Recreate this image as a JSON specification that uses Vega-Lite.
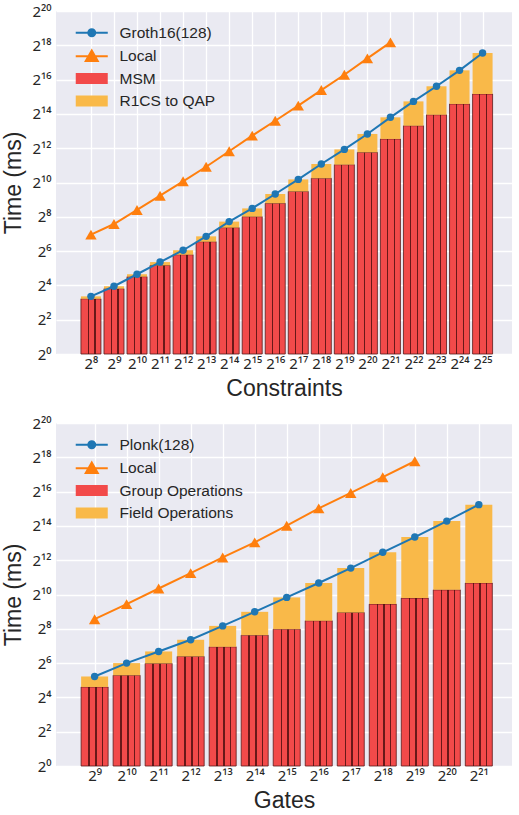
{
  "$schema": "https://vega.github.io/schema/vega-lite/v6.json",
  "background": "white",
  "padding": {"left": 2, "top": 4, "right": 0, "bottom": 0},
  "spacing": 16,
  "config": {
    "font": "Liberation Sans",
    "view": {"fill": "#EAEAF2", "stroke": null},
    "axis": {
      "domain": false, "ticks": false, "gridColor": "white", "gridWidth": 1.3,
      "labelFont": "Noto Sans", "labelFontSize": 15, "labelColor": "#262626",
      "titleFont": "Liberation Sans", "titleFontSize": 23, "titleFontWeight": "normal", "titleColor": "#262626"
    },
    "legend": {"labelFont": "Liberation Sans", "labelFontSize": 15.5, "labelColor": "#262626"}
  },
  "resolve": {"scale": {"color": "independent", "shape": "independent", "stroke": "independent", "x": "independent", "y": "independent"}},
  "vconcat": [
    {
      "width": 456, "height": 343,
      "data": {"values": [
        {"constraints": 256, "msm": 9.32, "groth16": 10.27, "local": 124.5},
        {"constraints": 512, "msm": 14.03, "groth16": 15.46, "local": 191.3},
        {"constraints": 1024, "msm": 22.79, "groth16": 25.11, "local": 337.8},
        {"constraints": 2048, "msm": 36.0, "groth16": 41.07, "local": 600.5},
        {"constraints": 4096, "msm": 55.33, "groth16": 66.26, "local": 1074.9},
        {"constraints": 8192, "msm": 93.7, "groth16": 116.2, "local": 1937.5},
        {"constraints": 16384, "msm": 165.4, "groth16": 210.8, "local": 3615.5},
        {"constraints": 32768, "msm": 257.8, "groth16": 359.5, "local": 6793.6},
        {"constraints": 65536, "msm": 442.6, "groth16": 643.6, "local": 12417},
        {"constraints": 131072, "msm": 714.1, "groth16": 1160.1, "local": 22851},
        {"constraints": 262144, "msm": 1217.7, "groth16": 2164.7, "local": 42940},
        {"constraints": 524288, "msm": 2105.6, "groth16": 3902, "local": 79575},
        {"constraints": 1048576, "msm": 3468.3, "groth16": 7281, "local": 154796},
        {"constraints": 2097152, "msm": 5955.6, "groth16": 14263, "local": 294937},
        {"constraints": 4194304, "msm": 10155, "groth16": 27175},
        {"constraints": 8388608, "msm": 15826, "groth16": 50011},
        {"constraints": 16777216, "msm": 24491, "groth16": 95289},
        {"constraints": 33554432, "msm": 36612, "groth16": 191903}
      ]},
      "encoding": {
        "x": {"field": "constraints", "type": "quantitative", "title": "Constraints",
          "scale": {"type": "log", "base": 2, "domain": [103.97, 69961000], "nice": false},
          "axis": {"values": [256,512,1024,2048,4096,8192,16384,32768,65536,131072,262144,524288,1048576,2097152,4194304,8388608,16777216,33554432],
            "labelPadding": 2, "titlePadding": 6, "labelFlush": false, "labelOverlap": false,
            "labelExpr": "'2' + (round(log(datum.value)/LN2) >= 10 ? ['⁰','¹','²','³','⁴','⁵','⁶','⁷','⁸','⁹'][floor(round(log(datum.value)/LN2)/10)] : '') + ['⁰','¹','²','³','⁴','⁵','⁶','⁷','⁸','⁹'][round(log(datum.value)/LN2) % 10]"}}
      },
      "layer": [
        {
          "data": {"values": []},
          "mark": {"type": "point", "filled": true, "opacity": 1, "size": 144, "strokeWidth": 2},
          "encoding": {
            "y": {"field": "groth16", "type": "quantitative", "title": "Time (ms)",
              "scale": {"type": "log", "base": 2, "domain": [1, 1048576], "nice": false},
              "axis": {"values": [1,4,16,64,256,1024,4096,16384,65536,262144,1048576], "labelPadding": 5, "titlePadding": 6, "labelFlush": false,
                "labelExpr": "'2' + (round(log(datum.value)/LN2) >= 10 ? ['⁰','¹','²','³','⁴','⁵','⁶','⁷','⁸','⁹'][floor(round(log(datum.value)/LN2)/10)] : '') + ['⁰','¹','²','³','⁴','⁵','⁶','⁷','⁸','⁹'][round(log(datum.value)/LN2) % 10]"}},
            "color": {"datum": "Groth16(128)", "type": "nominal",
              "scale": {"domain": ["Groth16(128)", "Local", "MSM", "R1CS to QAP"], "range": ["#1f77b4", "#ff7f0e", "#f24a4a", "#f9b949"]},
              "legend": {"title": null, "orient": "none", "legendX": 28, "legendY": 14, "padding": 0, "rowPadding": 4.4, "labelOffset": 20, "symbolSize": 144, "symbolStrokeWidth": 2}},
            "shape": {"datum": "Groth16(128)", "type": "nominal",
              "scale": {"domain": ["Groth16(128)", "Local", "MSM", "R1CS to QAP"], "range": [
                "M-2.67,0H2.67M0.58,0A0.58,0.58 0 1,1 -0.58,0A0.58,0.58 0 1,1 0.58,0Z",
                "M-2.67,0H2.67M0,-0.95L1,0.8L-1,0.8Z",
                "M-2.5,-0.75H2.5V0.75H-2.5Z",
                "M-2.5,-0.75H2.5V0.75H-2.5Z"]},
              "legend": {"title": null, "orient": "none", "legendX": 28, "legendY": 14, "padding": 0, "rowPadding": 4.4, "labelOffset": 20, "symbolSize": 144, "symbolStrokeWidth": 2}},
            "stroke": {"datum": "Groth16(128)", "type": "nominal",
              "scale": {"domain": ["Groth16(128)", "Local", "MSM", "R1CS to QAP"], "range": ["#1f77b4", "#ff7f0e", "#6a1e1e", "#d99a30"]},
              "legend": {"title": null, "orient": "none", "legendX": 28, "legendY": 14, "padding": 0, "rowPadding": 4.4, "labelOffset": 20, "symbolSize": 144, "symbolStrokeWidth": 2}}
          }
        },
        {
          "mark": {"type": "bar", "width": 20, "stroke": "#5c1a1a", "strokeWidth": 0.8},
          "encoding": {
            "y": {"field": "msm", "type": "quantitative", "title": "Time (ms)"},
            "y2": {"datum": 1},
            "color": {"datum": "MSM", "type": "nominal"}
          }
        },
        {
          "mark": {"type": "bar", "width": 20, "fill": {"gradient": "linear", "x1": 0, "y1": 0, "x2": 1, "y2": 0, "stops": [
            {"offset": 0, "color": "rgba(0,0,0,0)"}, {"offset": 0.33, "color": "rgba(0,0,0,0)"},
            {"offset": 0.33, "color": "rgba(70,12,12,0.8)"}, {"offset": 0.395, "color": "rgba(70,12,12,0.8)"},
            {"offset": 0.395, "color": "rgba(0,0,0,0)"}, {"offset": 0.665, "color": "rgba(0,0,0,0)"},
            {"offset": 0.665, "color": "rgba(70,12,12,0.8)"}, {"offset": 0.73, "color": "rgba(70,12,12,0.8)"},
            {"offset": 0.73, "color": "rgba(0,0,0,0)"}, {"offset": 1, "color": "rgba(0,0,0,0)"}]}},
          "encoding": {
            "y": {"field": "msm", "type": "quantitative", "title": "Time (ms)"},
            "y2": {"datum": 1}
          }
        },
        {
          "mark": {"type": "bar", "width": 20},
          "encoding": {
            "y": {"field": "groth16", "type": "quantitative", "title": "Time (ms)"},
            "y2": {"field": "msm"},
            "color": {"datum": "R1CS to QAP", "type": "nominal"}
          }
        },
        {
          "transform": [{"filter": "isValid(datum.local)"}],
          "mark": {"type": "line", "strokeWidth": 2},
          "encoding": {
            "y": {"field": "local", "type": "quantitative", "title": "Time (ms)"},
            "color": {"datum": "Local", "type": "nominal"}
          }
        },
        {
          "transform": [{"filter": "isValid(datum.local)"}],
          "mark": {"type": "point", "shape": "triangle-up", "filled": true, "size": 130, "opacity": 1},
          "encoding": {
            "y": {"field": "local", "type": "quantitative", "title": "Time (ms)"},
            "color": {"datum": "Local", "type": "nominal"}
          }
        },
        {
          "mark": {"type": "line", "strokeWidth": 2},
          "encoding": {
            "y": {"field": "groth16", "type": "quantitative", "title": "Time (ms)"},
            "color": {"datum": "Groth16(128)", "type": "nominal"}
          }
        },
        {
          "mark": {"type": "point", "shape": "circle", "filled": true, "size": 55, "opacity": 1},
          "encoding": {
            "y": {"field": "groth16", "type": "quantitative", "title": "Time (ms)"},
            "color": {"datum": "Groth16(128)", "type": "nominal"}
          }
        }
      ]
    },
    {
      "width": 456, "height": 343,
      "data": {"values": [
        {"gates": 512, "group": 24.42, "plonk": 37.27, "local": 377.4},
        {"gates": 1024, "group": 39.12, "plonk": 64, "local": 694.6},
        {"gates": 2048, "group": 63.12, "plonk": 102.5, "local": 1305.2},
        {"gates": 4096, "group": 83.87, "plonk": 164.3, "local": 2435.5},
        {"gates": 8192, "group": 123.6, "plonk": 288.0, "local": 4576.5},
        {"gates": 16384, "group": 198.1, "plonk": 508.5, "local": 8422},
        {"gates": 32768, "group": 252.5, "plonk": 910.2, "local": 16497},
        {"gates": 65536, "group": 354.6, "plonk": 1629.3, "local": 33227},
        {"gates": 131072, "group": 494.6, "plonk": 2977.8, "local": 62004},
        {"gates": 262144, "group": 694.6, "plonk": 5634, "local": 117315},
        {"gates": 524288, "group": 885.3, "plonk": 10442, "local": 223518},
        {"gates": 1048576, "group": 1234.7, "plonk": 19894},
        {"gates": 2097152, "group": 1629.3, "plonk": 38699}
      ]},
      "encoding": {
        "x": {"field": "gates", "type": "quantitative", "title": "Gates",
          "scale": {"type": "log", "base": 2, "domain": [247.3, 3859600], "nice": false},
          "axis": {"values": [512,1024,2048,4096,8192,16384,32768,65536,131072,262144,524288,1048576,2097152],
            "labelPadding": 2, "titlePadding": 6, "labelFlush": false, "labelOverlap": false,
            "labelExpr": "'2' + (round(log(datum.value)/LN2) >= 10 ? ['⁰','¹','²','³','⁴','⁵','⁶','⁷','⁸','⁹'][floor(round(log(datum.value)/LN2)/10)] : '') + ['⁰','¹','²','³','⁴','⁵','⁶','⁷','⁸','⁹'][round(log(datum.value)/LN2) % 10]"}}
      },
      "layer": [
        {
          "data": {"values": []},
          "mark": {"type": "point", "filled": true, "opacity": 1, "size": 144, "strokeWidth": 2},
          "encoding": {
            "y": {"field": "plonk", "type": "quantitative", "title": "Time (ms)",
              "scale": {"type": "log", "base": 2, "domain": [1, 1048576], "nice": false},
              "axis": {"values": [1,4,16,64,256,1024,4096,16384,65536,262144,1048576], "labelPadding": 5, "titlePadding": 6, "labelFlush": false,
                "labelExpr": "'2' + (round(log(datum.value)/LN2) >= 10 ? ['⁰','¹','²','³','⁴','⁵','⁶','⁷','⁸','⁹'][floor(round(log(datum.value)/LN2)/10)] : '') + ['⁰','¹','²','³','⁴','⁵','⁶','⁷','⁸','⁹'][round(log(datum.value)/LN2) % 10]"}},
            "color": {"datum": "Plonk(128)", "type": "nominal",
              "scale": {"domain": ["Plonk(128)", "Local", "Group Operations", "Field Operations"], "range": ["#1f77b4", "#ff7f0e", "#f24a4a", "#f9b949"]},
              "legend": {"title": null, "orient": "none", "legendX": 28, "legendY": 14, "padding": 0, "rowPadding": 4.4, "labelOffset": 20, "symbolSize": 144, "symbolStrokeWidth": 2}},
            "shape": {"datum": "Plonk(128)", "type": "nominal",
              "scale": {"domain": ["Plonk(128)", "Local", "Group Operations", "Field Operations"], "range": [
                "M-2.67,0H2.67M0.58,0A0.58,0.58 0 1,1 -0.58,0A0.58,0.58 0 1,1 0.58,0Z",
                "M-2.67,0H2.67M0,-0.95L1,0.8L-1,0.8Z",
                "M-2.5,-0.75H2.5V0.75H-2.5Z",
                "M-2.5,-0.75H2.5V0.75H-2.5Z"]},
              "legend": {"title": null, "orient": "none", "legendX": 28, "legendY": 14, "padding": 0, "rowPadding": 4.4, "labelOffset": 20, "symbolSize": 144, "symbolStrokeWidth": 2}},
            "stroke": {"datum": "Plonk(128)", "type": "nominal",
              "scale": {"domain": ["Plonk(128)", "Local", "Group Operations", "Field Operations"], "range": ["#1f77b4", "#ff7f0e", "#6a1e1e", "#d99a30"]},
              "legend": {"title": null, "orient": "none", "legendX": 28, "legendY": 14, "padding": 0, "rowPadding": 4.4, "labelOffset": 20, "symbolSize": 144, "symbolStrokeWidth": 2}}
          }
        },
        {
          "mark": {"type": "bar", "width": 27, "stroke": "#5c1a1a", "strokeWidth": 0.8},
          "encoding": {
            "y": {"field": "group", "type": "quantitative", "title": "Time (ms)"},
            "y2": {"datum": 1},
            "color": {"datum": "Group Operations", "type": "nominal"}
          }
        },
        {
          "mark": {"type": "bar", "width": 27, "fill": {"gradient": "linear", "x1": 0, "y1": 0, "x2": 1, "y2": 0, "stops": [
            {"offset": 0, "color": "rgba(0,0,0,0)"}, {"offset": 0.27, "color": "rgba(0,0,0,0)"},
            {"offset": 0.27, "color": "rgba(70,12,12,0.8)"}, {"offset": 0.32, "color": "rgba(70,12,12,0.8)"},
            {"offset": 0.32, "color": "rgba(0,0,0,0)"}, {"offset": 0.52, "color": "rgba(0,0,0,0)"},
            {"offset": 0.52, "color": "rgba(70,12,12,0.8)"}, {"offset": 0.57, "color": "rgba(70,12,12,0.8)"},
            {"offset": 0.57, "color": "rgba(0,0,0,0)"}, {"offset": 0.765, "color": "rgba(0,0,0,0)"},
            {"offset": 0.765, "color": "rgba(70,12,12,0.8)"}, {"offset": 0.815, "color": "rgba(70,12,12,0.8)"},
            {"offset": 0.815, "color": "rgba(0,0,0,0)"}, {"offset": 1, "color": "rgba(0,0,0,0)"}]}},
          "encoding": {
            "y": {"field": "group", "type": "quantitative", "title": "Time (ms)"},
            "y2": {"datum": 1}
          }
        },
        {
          "mark": {"type": "bar", "width": 27},
          "encoding": {
            "y": {"field": "plonk", "type": "quantitative", "title": "Time (ms)"},
            "y2": {"field": "group"},
            "color": {"datum": "Field Operations", "type": "nominal"}
          }
        },
        {
          "transform": [{"filter": "isValid(datum.local)"}],
          "mark": {"type": "line", "strokeWidth": 2},
          "encoding": {
            "y": {"field": "local", "type": "quantitative", "title": "Time (ms)"},
            "color": {"datum": "Local", "type": "nominal"}
          }
        },
        {
          "transform": [{"filter": "isValid(datum.local)"}],
          "mark": {"type": "point", "shape": "triangle-up", "filled": true, "size": 130, "opacity": 1},
          "encoding": {
            "y": {"field": "local", "type": "quantitative", "title": "Time (ms)"},
            "color": {"datum": "Local", "type": "nominal"}
          }
        },
        {
          "mark": {"type": "line", "strokeWidth": 2},
          "encoding": {
            "y": {"field": "plonk", "type": "quantitative", "title": "Time (ms)"},
            "color": {"datum": "Plonk(128)", "type": "nominal"}
          }
        },
        {
          "mark": {"type": "point", "shape": "circle", "filled": true, "size": 55, "opacity": 1},
          "encoding": {
            "y": {"field": "plonk", "type": "quantitative", "title": "Time (ms)"},
            "color": {"datum": "Plonk(128)", "type": "nominal"}
          }
        }
      ]
    }
  ]
}
